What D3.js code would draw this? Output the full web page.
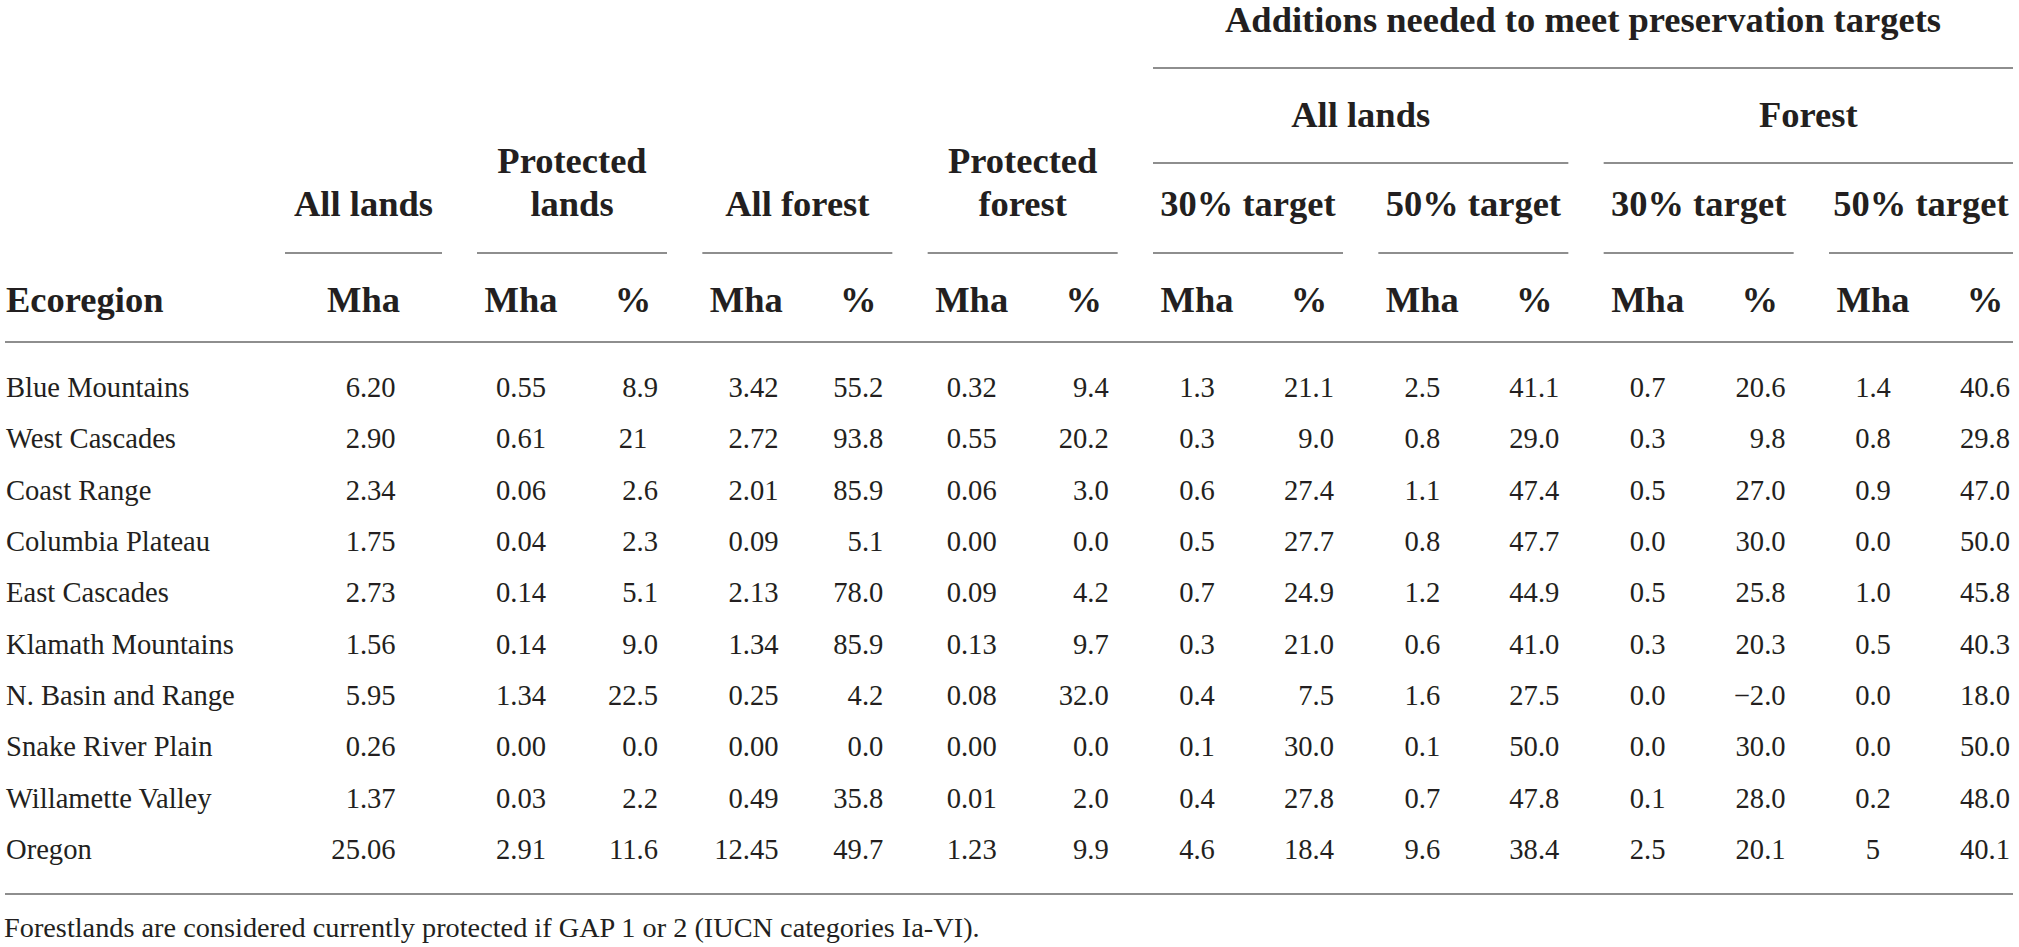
<!DOCTYPE html>
<html>
<head>
<meta charset="utf-8">
<script src="https://cdn.jsdelivr.net/npm/d3@7"></script>
<style>
  html, body { margin: 0; padding: 0; background: #fff; }
  svg { display: block; }
  text { font-family: "Liberation Serif", "Times New Roman", serif; fill: #231f20; }
  .hdr { font-weight: bold; font-size: 36.5px; }
  .cell { font-size: 28.6px; }
  .note { font-size: 28.3px; }
</style>
</head>
<body>
<svg id="chart" width="2019" height="947"></svg>
<script>
// ---------------- data ----------------
const ecoregions = ["Blue Mountains","West Cascades","Coast Range","Columbia Plateau","East Cascades","Klamath Mountains","N. Basin and Range","Snake River Plain","Willamette Valley","Oregon"];
const allLandsMha   = ["6.20","2.90","2.34","1.75","2.73","1.56","5.95","0.26","1.37","25.06"];
const protLandsMha  = ["0.55","0.61","0.06","0.04","0.14","0.14","1.34","0.00","0.03","2.91"];
const protLandsPct  = ["8.9","21","2.6","2.3","5.1","9.0","22.5","0.0","2.2","11.6"];
const allForestMha  = ["3.42","2.72","2.01","0.09","2.13","1.34","0.25","0.00","0.49","12.45"];
const allForestPct  = ["55.2","93.8","85.9","5.1","78.0","85.9","4.2","0.0","35.8","49.7"];
const protForestMha = ["0.32","0.55","0.06","0.00","0.09","0.13","0.08","0.00","0.01","1.23"];
const protForestPct = ["9.4","20.2","3.0","0.0","4.2","9.7","32.0","0.0","2.0","9.9"];
const land30Mha     = ["1.3","0.3","0.6","0.5","0.7","0.3","0.4","0.1","0.4","4.6"];
const land30Pct     = ["21.1","9.0","27.4","27.7","24.9","21.0","7.5","30.0","27.8","18.4"];
const land50Mha     = ["2.5","0.8","1.1","0.8","1.2","0.6","1.6","0.1","0.7","9.6"];
const land50Pct     = ["41.1","29.0","47.4","47.7","44.9","41.0","27.5","50.0","47.8","38.4"];
const forest30Mha   = ["0.7","0.3","0.5","0.0","0.5","0.3","0.0","0.0","0.1","2.5"];
const forest30Pct   = ["20.6","9.8","27.0","30.0","25.8","20.3","\u22122.0","30.0","28.0","20.1"];
const forest50Mha   = ["1.4","0.8","0.9","0.0","1.0","0.5","0.0","0.0","0.2","5"];
const forest50Pct   = ["40.6","29.8","47.0","50.0","45.8","40.3","18.0","50.0","48.0","40.1"];

const stubHeader = "Ecoregion";
const groupLabels = [["All lands"],["Protected","lands"],["All forest"],["Protected","forest"],["30% target"],["50% target"],["30% target"],["50% target"]];
const unitLabels = ["Mha","%"];
const midLabels = [{label:"All lands", groups:[4,5]}, {label:"Forest", groups:[6,7]}];
const topLabel = {label:"Additions needed to meet preservation targets", groups:[4,7]};
const footnote = "Forestlands are considered currently protected if GAP 1 or 2 (IUCN categories Ia-VI).";

// columns: [values, group index, unit index]
const columns = [
  [allLandsMha,0,0],
  [protLandsMha,1,0],[protLandsPct,1,1],
  [allForestMha,2,0],[allForestPct,2,1],
  [protForestMha,3,0],[protForestPct,3,1],
  [land30Mha,4,0],[land30Pct,4,1],
  [land50Mha,5,0],[land50Pct,5,1],
  [forest30Mha,6,0],[forest30Pct,6,1],
  [forest50Mha,7,0],[forest50Pct,7,1]
];

// ---------------- layout ----------------
const svg = d3.select("#chart");
const tableLeft = 5, tableRight = 2013;
const gStart = d3.scaleLinear().domain([1, 7]).range([477, 1829]);
const groupW = 190, firstGroup = [285, 442];
function groupSpan(g) {
  if (g === 0) return firstGroup;
  return [gStart(g), Math.min(gStart(g) + groupW, tableRight)];
}
function subCenter(g, u) {
  if (g === 0) return (firstGroup[0] + firstGroup[1]) / 2;
  return gStart(g) + (u === 0 ? 44 : 156);
}
const rowY = d3.scaleLinear().domain([0, ecoregions.length - 1]).range([397, 859]);

const ruleColor = "#8e8e8e";
function rule(x1, x2, y, w) {
  svg.append("line").attr("x1", x1).attr("x2", x2).attr("y1", y).attr("y2", y)
    .attr("stroke", ruleColor).attr("stroke-width", w || 1.8);
}

// top spanning header
{
  const a = groupSpan(topLabel.groups[0]), b = groupSpan(topLabel.groups[1]);
  svg.append("text").attr("class", "hdr").attr("x", (a[0] + b[1]) / 2).attr("y", 32)
    .attr("text-anchor", "middle").text(topLabel.label);
  rule(a[0], b[1], 68);
}
// mid spanning headers
midLabels.forEach(m => {
  const a = groupSpan(m.groups[0]), b = groupSpan(m.groups[1]);
  svg.append("text").attr("class", "hdr").attr("x", (a[0] + b[1]) / 2).attr("y", 127)
    .attr("text-anchor", "middle").text(m.label);
  rule(a[0], b[1], 163);
});
// group headers
groupLabels.forEach((lines, g) => {
  const s = groupSpan(g);
  const cx = (s[0] + s[1]) / 2;
  const t = svg.append("text").attr("class", "hdr").attr("text-anchor", "middle");
  const base = 216 - (lines.length - 1) * 43;
  lines.forEach((ln, i) => {
    t.append("tspan").attr("x", cx).attr("y", base + i * 43).text(ln);
  });
  rule(s[0], s[1], 253);
});
// stub + unit headers
svg.append("text").attr("class", "hdr").attr("x", 6).attr("y", 312).text(stubHeader);
columns.forEach(([vals, g, u]) => {
  svg.append("text").attr("class", "hdr").attr("x", subCenter(g, u)).attr("y", 312)
    .attr("text-anchor", "middle").text(unitLabels[u]);
});
rule(tableLeft, tableRight, 342);

// measuring helper
const meas = svg.append("text").attr("class", "cell").attr("x", -1000).attr("y", -1000);
function tw(s) { if (!s) return 0; meas.text(s); return meas.node().getComputedTextLength(); }

// body rows
const rows = svg.append("g");
ecoregions.forEach((name, i) => {
  rows.append("text").attr("class", "cell").attr("x", 6).attr("y", rowY(i)).text(name);
});
columns.forEach(([vals, g, u]) => {
  const cx = subCenter(g, u);
  const parts = vals.map(v => {
    const k = v.indexOf(".");
    return k < 0 ? null : [v.slice(0, k), v.slice(k)];
  });
  const maxInt = d3.max(parts, p => p ? tw(p[0]) : 0);
  const maxFrac = d3.max(parts, p => p ? tw(p[1]) : 0);
  const left = cx - (maxInt + maxFrac) / 2;
  vals.forEach((v, i) => {
    const t = rows.append("text").attr("class", "cell").attr("y", rowY(i)).text(v);
    if (parts[i]) t.attr("x", left + maxInt - tw(parts[i][0])).attr("text-anchor", "start");
    else t.attr("x", cx).attr("text-anchor", "middle");
  });
});
meas.remove();

rule(tableLeft, tableRight, 894);
svg.append("text").attr("class", "note").attr("x", 4).attr("y", 937).text(footnote);
</script>
</body>
</html>
